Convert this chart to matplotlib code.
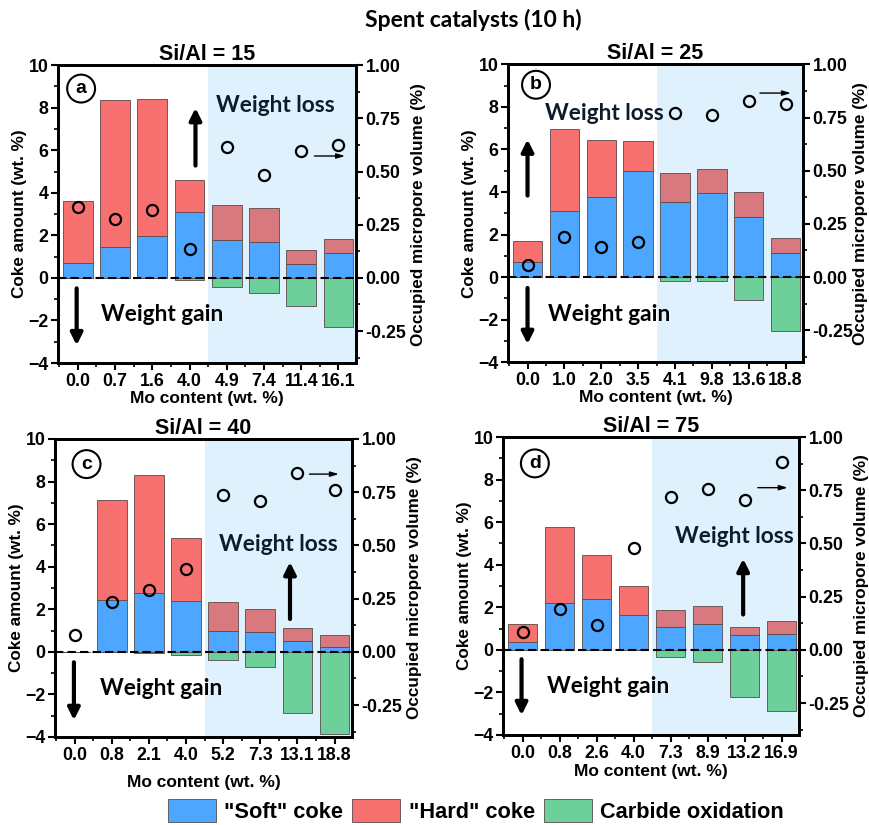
import numpy as np
import matplotlib
matplotlib.use('Agg')
import matplotlib.pyplot as plt
from matplotlib.patches import Patch
from matplotlib.ticker import MultipleLocator, FormatStrFormatter

plt.rcParams['font.family'] = ['Liberation Sans', 'DejaVu Sans']
plt.rcParams['font.weight'] = 'bold'
plt.rcParams['axes.labelweight'] = 'bold'
plt.rcParams['axes.titleweight'] = 'bold'

# data (wt. %)
mo_a = ['0.0', '0.7', '1.6', '4.0', '4.9', '7.4', '11.4', '16.1']
soft_a = [0.7, 1.45, 1.95, 3.1, 1.78, 1.68, 0.65, 1.16]
hard_a = [2.9, 6.93, 6.45, 1.48, 1.64, 1.6, 0.65, 0.66]
carb_a = [0, 0, 0, -0.12, -0.43, -0.69, -1.3, -2.31]
micro_a = [0.332, 0.277, 0.32, 0.135, 0.617, 0.484, 0.598, 0.623]

mo_b = ['0.0', '1.0', '2.0', '3.5', '4.1', '9.8', '13.6', '18.8']
soft_b = [0.72, 3.12, 3.75, 4.97, 3.53, 3.94, 2.84, 1.12]
hard_b = [0.96, 3.83, 2.68, 1.42, 1.35, 1.13, 1.18, 0.73]
carb_b = [0, 0, 0, 0, -0.2, -0.2, -1.1, -2.53]
micro_b = [0.056, 0.19, 0.14, 0.166, 0.769, 0.76, 0.83, 0.813]

mo_c = ['0.0', '0.8', '2.1', '4.0', '5.2', '7.3', '13.1', '18.8']
soft_c = [0, 2.45, 2.78, 2.4, 1.0, 0.93, 0.52, 0.24]
hard_c = [0, 4.68, 5.54, 2.97, 1.35, 1.06, 0.59, 0.56]
carb_c = [0, 0, -0.05, -0.17, -0.38, -0.72, -2.87, -3.85]
micro_c = [0.077, 0.235, 0.289, 0.388, 0.738, 0.71, 0.841, 0.758]

mo_d = ['0.0', '0.8', '2.6', '4.0', '7.3', '8.9', '13.2', '16.9']
soft_d = [0.39, 2.19, 2.39, 1.66, 1.06, 1.2, 0.7, 0.74]
hard_d = [0.81, 3.57, 2.05, 1.33, 0.8, 0.85, 0.36, 0.61]
carb_d = [0, 0, 0, -0.03, -0.34, -0.59, -2.2, -2.88]
micro_d = [0.083, 0.192, 0.117, 0.48, 0.717, 0.754, 0.703, 0.881]

si_al = ['15', '25', '40', '75']
letters = ['a', 'b', 'c', 'd']

c_soft = '#4DA6FF'
c_hard = '#F87171'
c_hard_shade = '#D8787F'
c_carb = '#6DCF9A'
c_shade = '#DFF1FC'
c_edge = '#5a4a4a'
ann_font = ['Lato', 'DejaVu Sans']

# axes rectangles and annotation positions (data coords)
layout = [
    dict(rect=[0.0667, 0.560, 0.3425, 0.361], up=(3.16, 5.15, 8.12), down=(-0.03, -0.36, -3.3),
         loss=(3.7, 8.1), gain=(0.62, -1.74), small=(6.28, 7.25, 5.73), lab=(0.09, 8.9),
         xlpad=1, rpad=3),
    dict(rect=[0.5839, 0.561, 0.339, 0.361], up=(0.0, 3.7, 6.6), down=(0.0, -0.38, -3.28),
         loss=(0.47, 7.7), gain=(0.56, -1.74), small=(6.23, 7.22, 8.65), lab=(0.23, 9.04),
         xlpad=1, rpad=0),
    dict(rect=[0.0632, 0.1067, 0.3414, 0.3612], up=(5.8, 1.41, 4.35), down=(-0.02, -0.36, -3.34),
         loss=(3.9, 5.05), gain=(0.67, -1.74), small=(6.25, 7.19, 8.35), lab=(0.32, 8.82),
         xlpad=8, rpad=3),
    dict(rect=[0.5782, 0.1091, 0.3402, 0.3612], up=(5.96, 1.53, 4.41), down=(-0.03, -0.31, -3.2),
         loss=(4.13, 5.32), gain=(0.65, -1.72), small=(6.28, 7.24, 7.62), lab=(0.33, 8.76),
         xlpad=2, rpad=3),
]

panels = [
    (mo_a, soft_a, hard_a, carb_a, micro_a),
    (mo_b, soft_b, hard_b, carb_b, micro_b),
    (mo_c, soft_c, hard_c, carb_c, micro_c),
    (mo_d, soft_d, hard_d, carb_d, micro_d),
]

fig = plt.figure(figsize=(8.7, 8.25), dpi=100)

for (mo, soft, hard, carb, micro), lay, sa, letter in zip(panels, layout, si_al, letters):
    ax = fig.add_axes(lay['rect'])
    x = np.arange(len(mo))
    ax.axvspan(3.5, 7.6, color=c_shade, zorder=0, lw=0)
    hard_cols = [c_hard if i < 4 else c_hard_shade for i in x]
    ax.bar(x, soft, 0.8, color=c_soft, edgecolor=c_edge, lw=0.6, zorder=2)
    ax.bar(x, hard, 0.8, bottom=soft, color=hard_cols, edgecolor=c_edge, lw=0.6, zorder=2)
    ax.bar(x, carb, 0.8, color=c_carb, edgecolor=c_edge, lw=0.6, zorder=2)
    ax.axhline(0, color='black', ls='--', lw=1.5, zorder=3, dashes=(4, 2))

    ax.set_xlim(-0.53, 7.47)
    ax.set_ylim(-4, 10)
    ax.set_xticks(x)
    ax.set_xticklabels(mo)
    ax.xaxis.set_minor_locator(MultipleLocator(0.5))
    ax.yaxis.set_major_locator(MultipleLocator(2))
    ax.yaxis.set_minor_locator(MultipleLocator(1))
    ax.tick_params(which='major', direction='out', length=5, width=1.5, labelsize=12.8, pad=2)
    ax.tick_params(which='minor', direction='out', length=3, width=1.2)
    for s in ax.spines.values():
        s.set_linewidth(2)
    ax.set_ylabel('Coke amount (wt. %)', fontsize=12.3, labelpad=1)
    ax.set_xlabel('Mo content (wt. %)', fontsize=12.5, labelpad=lay['xlpad'])
    ax.set_title('Si/Al = ' + sa, fontsize=15.5, pad=3)

    ax2 = ax.twinx()
    ax2.set_ylim(-0.4, 1.0)
    ax2.yaxis.set_major_locator(MultipleLocator(0.25))
    ax2.yaxis.set_minor_locator(MultipleLocator(0.125))
    ax2.yaxis.set_major_formatter(FormatStrFormatter('%.2f'))
    ax2.tick_params(which='major', direction='out', length=5, width=1.5, labelsize=12.8, pad=2)
    ax2.tick_params(which='minor', direction='out', length=3, width=1.2)
    for s in ax2.spines.values():
        s.set_linewidth(2)
    ax2.set_ylabel('Occupied micropore volume (%)', fontsize=12.3, labelpad=lay['rpad'])
    ax2.plot(x, micro, 'o', mfc='none', mec='black', mew=1.6, ms=8, zorder=5)

    ux, uy0, uy1 = lay['up']
    ax.annotate('', xy=(ux, uy1), xytext=(ux, uy0),
                arrowprops=dict(arrowstyle='-|>,head_length=0.7,head_width=0.35', lw=3, color='black'),
                zorder=4)
    dx, dy0, dy1 = lay['down']
    ax.annotate('', xy=(dx, dy1), xytext=(dx, dy0),
                arrowprops=dict(arrowstyle='-|>,head_length=0.7,head_width=0.35', lw=3, color='black'),
                zorder=4)
    sx0, sx1, sy = lay['small']
    ax.annotate('', xy=(sx1, sy), xytext=(sx0, sy),
                arrowprops=dict(arrowstyle='-|>,head_length=0.5,head_width=0.15', lw=1, color='black'),
                zorder=4)
    ax.text(lay['loss'][0], lay['loss'][1], 'Weight loss', fontsize=16.3, family=ann_font,
            fontweight='bold', ha='left', va='center', color='#0d1b2a', zorder=4)
    ax.text(lay['gain'][0], lay['gain'][1], 'Weight gain', fontsize=16.3, family=ann_font,
            fontweight='bold', ha='left', va='center', color='black', zorder=4)
    ax.text(lay['lab'][0], lay['lab'][1], letter, fontsize=14, ha='center', va='center',
            bbox=dict(boxstyle='circle,pad=0.28', fc='white', ec='black', lw=1.5), zorder=6)

fig.text(0.544, 1 - 20 / 825, 'Spent catalysts (10 h)', fontsize=16.5, family=ann_font,
         fontweight='bold', ha='center', va='center')

handles = [Patch(fc=c_soft, ec=c_edge, lw=0.6), Patch(fc=c_hard, ec=c_edge, lw=0.6),
           Patch(fc=c_carb, ec=c_edge, lw=0.6)]
fig.legend(handles, ['"Soft" coke', '"Hard" coke', 'Carbide oxidation'],
           loc='center', bbox_to_anchor=(0.547, 1 - 811 / 825), ncol=3, frameon=False,
           fontsize=15.7, handlelength=2.2, handleheight=1.2, handletextpad=0.4,
           columnspacing=0.4, borderpad=0)

fig.savefig('out.png', dpi=100)
